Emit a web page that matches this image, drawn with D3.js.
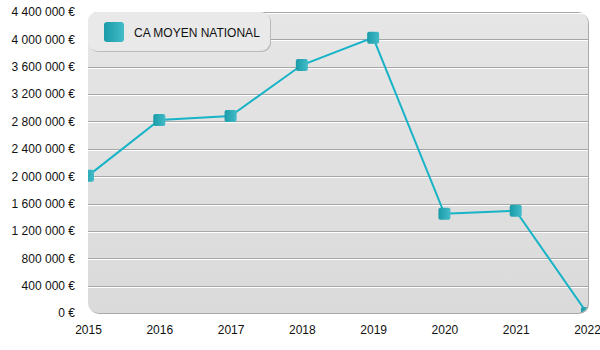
<!DOCTYPE html>
<html>
<head>
<meta charset="utf-8">
<script src="https://cdn.jsdelivr.net/npm/d3@7"></script>
<style>
  html, body { margin: 0; padding: 0; background: #fff; }
  svg { display: block; font-family: "Liberation Sans", Arial, Helvetica, sans-serif; }
</style>
</head>
<body>
<svg id="chart" width="600" height="350"></svg>
<script>
// Chiffre d'affaires moyen national par année
const years = ["2015", "2016", "2017", "2018", "2019", "2020", "2021", "2022"];
const caMoyen = [2005000, 2820000, 2880000, 3625000, 4025000, 1450000, 1495000, 0];
const yTicks = [0, 400000, 800000, 1200000, 1600000, 2000000, 2400000, 2800000, 3200000, 3600000, 4000000, 4400000];
const seriesName = "CA MOYEN NATIONAL";

const svg = d3.select("#chart");
const plot = { left: 88, right: 588, top: 12, bottom: 313 };

const x = d3.scalePoint().domain(years).range([plot.left, plot.right - 1]);
const y = d3.scaleLinear().domain([0, 4400000]).range([plot.bottom, plot.top]);

const fmt = v => d3.format(",")(v).replace(/,/g, " ") + " €";

const defs = svg.append("defs");
const bg = defs.append("linearGradient").attr("id", "bgGrad").attr("x1", 0).attr("y1", 0).attr("x2", 0).attr("y2", 1);
bg.append("stop").attr("offset", "0%").attr("stop-color", "#e6e6e6");
bg.append("stop").attr("offset", "100%").attr("stop-color", "#dadada");

const mk = defs.append("linearGradient").attr("id", "mkGrad").attr("x1", 0).attr("y1", 0).attr("x2", 1).attr("y2", 0);
mk.append("stop").attr("offset", "0%").attr("stop-color", "#1a9aa8");
mk.append("stop").attr("offset", "100%").attr("stop-color", "#42bcc8");

const pw = plot.right - plot.left, ph = plot.bottom - plot.top;
defs.append("clipPath").attr("id", "plotClip")
  .append("rect").attr("x", plot.left).attr("y", plot.top)
  .attr("width", pw).attr("height", ph).attr("rx", 10).attr("ry", 10);

// Ombre du cadre
svg.append("rect")
  .attr("x", plot.left + 1).attr("y", plot.top + 1)
  .attr("width", pw).attr("height", ph).attr("rx", 10).attr("ry", 10)
  .attr("fill", "#a9a9a9");
svg.append("rect")
  .attr("x", plot.left).attr("y", plot.top)
  .attr("width", pw).attr("height", ph).attr("rx", 10).attr("ry", 10)
  .attr("fill", "url(#bgGrad)");

const inner = svg.append("g").attr("clip-path", "url(#plotClip)");

// Lignes de grille en relief
const grid = inner.append("g");
grid.selectAll("line.dark").data(yTicks.filter(d => d > 0)).join("line")
  .attr("x1", plot.left).attr("x2", plot.right)
  .attr("y1", d => Math.round(y(d)) + 0.5).attr("y2", d => Math.round(y(d)) + 0.5)
  .attr("stroke", "#a6a6a6").attr("stroke-width", 1);
grid.selectAll("line.light").data(yTicks.filter(d => d > 0)).join("line")
  .attr("x1", plot.left).attr("x2", plot.right)
  .attr("y1", d => Math.round(y(d)) + 1.5).attr("y2", d => Math.round(y(d)) + 1.5)
  .attr("stroke", "#ffffff").attr("stroke-width", 1);

// Axe des ordonnées
const yAxis = svg.append("g")
  .attr("transform", `translate(${plot.left - 13},0)`)
  .call(d3.axisLeft(y).tickValues(yTicks).tickFormat(fmt).tickSize(0).tickPadding(0));
yAxis.select(".domain").remove();
yAxis.selectAll("text").attr("font-size", 12).attr("fill", "#111").attr("font-family", "inherit");

// Axe des abscisses
const xAxis = svg.append("g")
  .attr("transform", `translate(0,${plot.bottom + 12})`)
  .call(d3.axisBottom(x).tickSize(0).tickPadding(0));
xAxis.select(".domain").remove();
xAxis.selectAll("text").attr("font-size", 12).attr("fill", "#111").attr("font-family", "inherit");

// Série
const line = d3.line().x((d, i) => x(years[i])).y(d => y(d));
inner.append("path").datum(caMoyen)
  .attr("d", line).attr("fill", "none")
  .attr("stroke", "#17b3c6").attr("stroke-width", 2);

inner.selectAll("rect.pt").data(caMoyen).join("rect")
  .attr("class", "pt")
  .attr("x", (d, i) => x(years[i]) - 6).attr("y", d => y(d) - 6)
  .attr("width", 12).attr("height", 12).attr("rx", 2).attr("ry", 2)
  .attr("fill", "url(#mkGrad)");

// Légende
const lg = svg.append("g");
lg.append("rect").attr("x", 89).attr("y", 13).attr("width", 182).attr("height", 39)
  .attr("rx", 9).attr("ry", 9).attr("fill", "#b9b9b9");
lg.append("rect").attr("x", 88).attr("y", 12).attr("width", 182).attr("height", 39)
  .attr("rx", 9).attr("ry", 9).attr("fill", "#e9e9e9");
lg.append("rect").attr("x", 104).attr("y", 22).attr("width", 20).attr("height", 20)
  .attr("rx", 3).attr("ry", 3).attr("fill", "url(#mkGrad)");
lg.append("text").attr("x", 134).attr("y", 37)
  .attr("font-size", 12).attr("fill", "#111").text(seriesName);
</script>
</body>
</html>
